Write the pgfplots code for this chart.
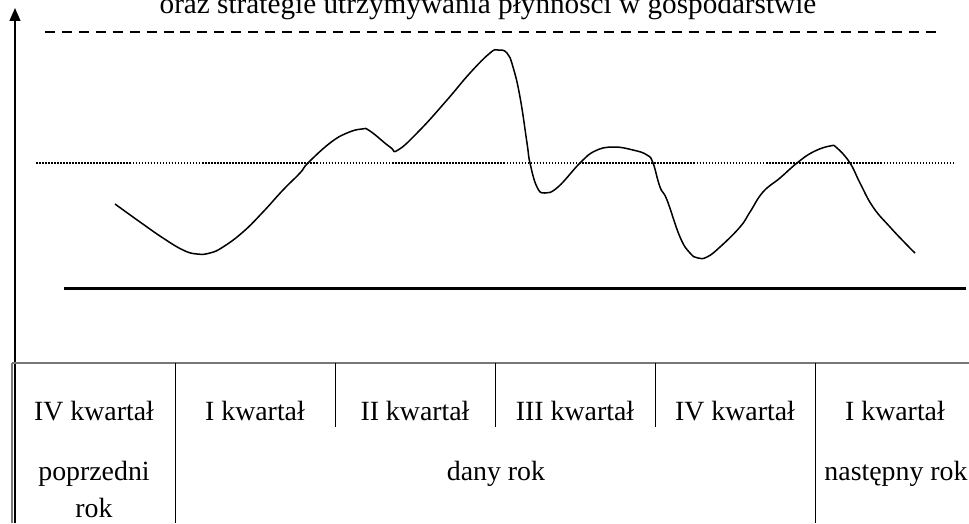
\documentclass[border=0pt]{standalone}
\usepackage{fontspec}
\setmainfont{Liberation Serif}
\usepackage{pgfplots}
\pgfplotsset{compat=1.18}
\usetikzlibrary{arrows.meta}
\definecolor{tabgray}{RGB}{120,120,120}
\tikzset{lbl/.style={anchor=base, font=\fontsize{12}{14}\selectfont}}
\begin{document}
\begin{tikzpicture}
\begin{axis}[
  name=ax,
  at={(0,0)}, anchor=south west,
  scale only axis,
  width=417.67pt, height=225.43pt,
  xmin=0, xmax=969, ymin=0, ymax=523,
  y dir=reverse,
  hide axis,
  clip=false,
]
% reference lines
\addplot[black, line width=0.9pt, dash pattern=on 4.3pt off 3pt] coordinates {(45,32)(940,32)};
\addplot[black, line width=0.8pt, dash pattern=on 0.7pt off 0.6pt] coordinates {(36,163)(955,163)};
\addplot[black, line width=1.3pt] coordinates {(64,288)(966,288)};
% curve
\addplot[black, line width=0.65pt, smooth, tension=0.75] coordinates {
(115,204)(140,222)(163,238)(183,250)(197,254)(210,253)(223,247)(243,232)(263,212)(283,190)(300,173)(308,163)(330,143)(347,133)(362,129)(370,131)(390,147)(398,150)(420,130)(447,100)(470,73)(490,53)(498,50)(507,53)(513,67)(520,97)(527,143)(530,163)(537,187)(545,193)(558,187)(580,163)(595,151)(613,147)(633,150)(647,155)(653,163)(660,187)(667,200)(680,237)(690,253)(698,258)(707,257)(720,247)(740,227)(750,212)(763,192)(780,178)(797,163)(813,152)(830,146)(837,148)(850,163)(860,183)(873,207)(890,227)(907,245)(915,253)};
% vertical axis with arrow
\addplot[black, line width=0.65pt, -{Triangle[width=4.7pt,length=5.6pt]}] coordinates {(15,523)(15,8)};
% table
\addplot[tabgray, line width=0.6pt] coordinates {(12,523)(12,363)};
\addplot[tabgray, line width=0.7pt] coordinates {(12,363)(969,363)};
\addplot[black, line width=0.4pt] coordinates {(175,363)(175,523)};
\addplot[black, line width=0.4pt] coordinates {(335,363)(335,427)};
\addplot[black, line width=0.4pt] coordinates {(495,363)(495,427)};
\addplot[black, line width=0.4pt] coordinates {(655,363)(655,427)};
\addplot[black, line width=0.4pt] coordinates {(815,363)(815,523)};
% labels
\node[lbl] at (axis cs:94,420) {IV kwartał};
\node[lbl] at (axis cs:255,420) {I kwartał};
\node[lbl] at (axis cs:415,420) {II kwartał};
\node[lbl] at (axis cs:575,420) {III kwartał};
\node[lbl] at (axis cs:735,420) {IV kwartał};
\node[lbl] at (axis cs:895,420) {I kwartał};
\node[lbl] at (axis cs:94,480) {poprzedni};
\node[lbl] at (axis cs:94,517) {rok};
\node[lbl] at (axis cs:496,480) {dany rok};
\node[lbl] at (axis cs:896,480) {następny rok};
\node[anchor=base, font=\fontsize{12.6}{15}\selectfont] at (axis cs:488,13) {oraz strategie utrzymywania płynności w gospodarstwie};
\end{axis}
\pgfresetboundingbox
\path[use as bounding box] (0,0) rectangle (417.67pt,225.43pt);
\end{tikzpicture}
\end{document}
